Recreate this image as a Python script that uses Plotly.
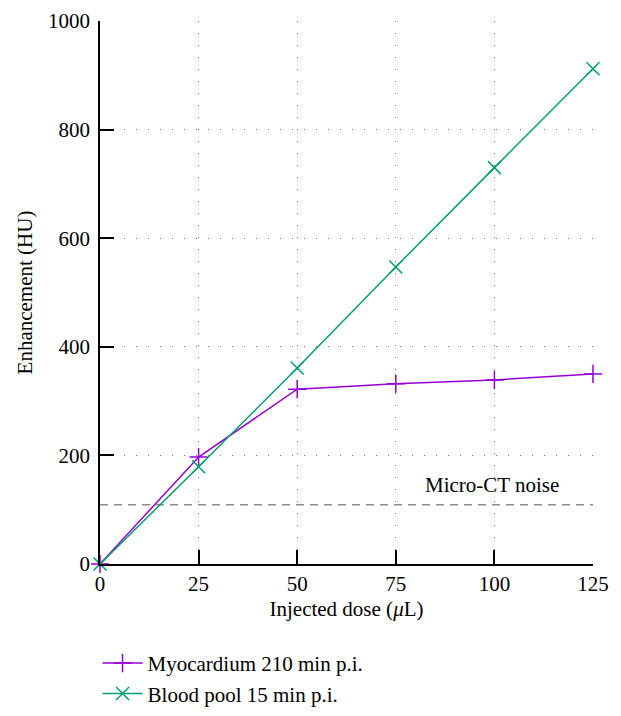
import plotly.graph_objects as go

dose = [0, 25, 50, 75, 100, 125]
myocardium = [0, 197, 322, 332, 339, 350]
blood_pool = [0, 179, 361, 547, 730, 912]
noise_level = 109
x_ticks = [0, 25, 50, 75, 100, 125]
y_ticks = [0, 200, 400, 600, 800, 1000]

FONT = "Liberation Serif"
PURPLE = "#9400D3"
GREEN = "#009E73"
FS = 21

fig = go.Figure()
fig.add_trace(go.Scatter(
    x=[dose[0], dose[-1]], y=[noise_level, noise_level], mode="lines",
    line=dict(color="#8c8c8c", width=1.5, dash="8px,6px"),
    showlegend=False, hoverinfo="skip", cliponaxis=False))
fig.add_trace(go.Scatter(
    x=dose, y=myocardium, mode="lines+markers", name="Myocardium 210 min p.i.",
    line=dict(color=PURPLE, width=1.5), cliponaxis=False,
    marker=dict(symbol="cross-thin", size=13, color=PURPLE,
                line=dict(color=PURPLE, width=1.5))))
fig.add_trace(go.Scatter(
    x=dose, y=blood_pool, mode="lines+markers", name="Blood pool 15 min p.i.",
    line=dict(color=GREEN, width=1.5), cliponaxis=False,
    marker=dict(symbol="x-thin", size=13, color=GREEN,
                line=dict(color=GREEN, width=1.5))))

fig.add_annotation(x=99.5, y=noise_level, yanchor="bottom", yshift=6,
                   text="Micro-CT noise", showarrow=False,
                   font=dict(family=FONT, size=FS, color="black"))

axis_common = dict(
    showline=True, linecolor="black", linewidth=1.5,
    ticks="inside", ticklen=14, tickwidth=1.5, tickcolor="black",
    showgrid=True, gridcolor="#707070", gridwidth=1, griddash="1px,11px",
    zeroline=False, tickfont=dict(family=FONT, size=FS, color="black"),
    automargin=False,
)
fig.update_xaxes(range=[0, 125], tickvals=x_ticks,
                 title=dict(text="Injected dose (<i>μ</i>L)",
                            font=dict(family=FONT, size=FS, color="black"), standoff=6),
                 **axis_common)
fig.update_yaxes(range=[0, 1000], tickvals=y_ticks, ticklabelstandoff=4,
                 title=dict(text="Enhancement (HU)",
                            font=dict(family=FONT, size=FS, color="black"), standoff=10),
                 **axis_common)

fig.update_layout(
    width=621, height=716,
    margin=dict(l=100, r=28, t=21, b=152),
    plot_bgcolor="white", paper_bgcolor="white",
    font=dict(family=FONT, size=FS, color="black"),
    legend=dict(x=-0.005, xanchor="left", yref="container", y=0.102, yanchor="top",
                font=dict(family=FONT, size=FS, color="black"),
                tracegroupgap=0, itemwidth=40, bgcolor="rgba(0,0,0,0)"),
)
fig.write_html("out.html", config={"displayModeBar": False},
               post_script="document.body.style.margin='0';document.body.style.overflow='hidden';")
